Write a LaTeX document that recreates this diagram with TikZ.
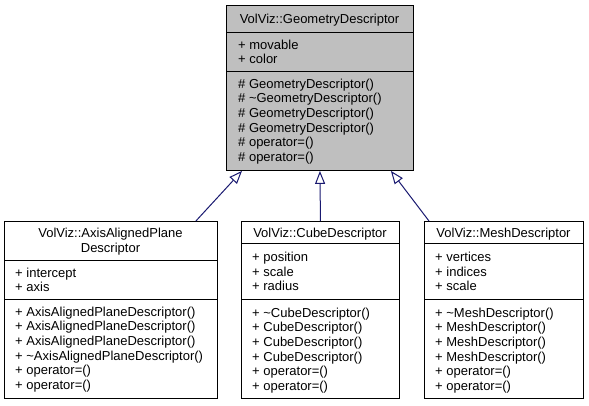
\documentclass[tikz,border=0pt]{standalone}
\usepackage{fontspec}
\setmainfont{Liberation Sans}
\usetikzlibrary{arrows.meta}
\definecolor{edgeblue}{HTML}{191970}
\definecolor{grey75}{HTML}{BFBFBF}
\tikzset{
  classbox/.style={draw=black, line width=0.9pt, anchor=north west, inner sep=0pt},
  member/.style={anchor=base west, inner sep=0pt, font=\fontsize{13}{14.7}\selectfont},
  classname/.style={member, anchor=base},
  inherit/.style={draw=edgeblue, line width=1pt, -{Triangle[open, fill=white, length=13pt, width=10pt]}},
}
\begin{document}
\begin{tikzpicture}[x=1pt,y=-1pt]
\useasboundingbox (0,0) rectangle (589,405);
\node[classbox, fill=grey75, minimum width=187pt, minimum height=165pt] (geom) at (226,5) {};
\node[classbox, minimum width=213pt, minimum height=177pt] (plane) at (4,221) {};
\node[classbox, minimum width=158pt, minimum height=177pt] (cube) at (241,221) {};
\node[classbox, minimum width=159pt, minimum height=177pt] (mesh) at (424,221) {};
\draw[line width=0.9pt] ([yshift=-27pt]geom.north west) -- ([yshift=-27pt]geom.north east);
\draw[line width=0.9pt] ([yshift=-66pt]geom.north west) -- ([yshift=-66pt]geom.north east);
\draw[line width=0.9pt] ([yshift=-39pt]plane.north west) -- ([yshift=-39pt]plane.north east);
\draw[line width=0.9pt] ([yshift=-78pt]plane.north west) -- ([yshift=-78pt]plane.north east);
\draw[line width=0.9pt] ([yshift=-22.5pt]cube.north west) -- ([yshift=-22.5pt]cube.north east);
\draw[line width=0.9pt] ([yshift=-78.5pt]cube.north west) -- ([yshift=-78.5pt]cube.north east);
\draw[line width=0.9pt] ([yshift=-22.5pt]mesh.north west) -- ([yshift=-22.5pt]mesh.north east);
\draw[line width=0.9pt] ([yshift=-78.5pt]mesh.north west) -- ([yshift=-78.5pt]mesh.north east);
\node[classname] (geom-name) at (319.5,23) {VolViz::GeometryDescriptor};
\foreach \t [count=\i] in {+ movable, + color}
  \node[member] (geom-attr\i) at (238,{49+14.7*(\i-1)}) {\t};
\foreach \t [count=\i] in {\# GeometryDescriptor(), \# \textasciitilde GeometryDescriptor(), \# GeometryDescriptor(), \# GeometryDescriptor(), \# operator=(), \# operator=()}
  \node[member] (geom-op\i) at (238,{88+14.7*(\i-1)}) {\t};
\node[classname] (plane-name1) at (110.5,237.5) {VolViz::AxisAlignedPlane};
\node[classname] (plane-name2) at (110.5,252.2) {Descriptor};
\foreach \t [count=\i] in {+ intercept, + axis}
  \node[member] (plane-attr\i) at (15,{277+14.7*(\i-1)}) {\t};
\foreach \t [count=\i] in {+ AxisAlignedPlaneDescriptor(), + AxisAlignedPlaneDescriptor(), + AxisAlignedPlaneDescriptor(), + \textasciitilde AxisAlignedPlaneDescriptor(), + operator=(), + operator=()}
  \node[member] (plane-op\i) at (15,{316+14.7*(\i-1)}) {\t};
\node[classname] (cube-name) at (320,237.5) {VolViz::CubeDescriptor};
\foreach \t [count=\i] in {+ position, + scale, + radius}
  \node[member] (cube-attr\i) at (252,{261.5+14.7*(\i-1)}) {\t};
\foreach \t [count=\i] in {+ \textasciitilde CubeDescriptor(), + CubeDescriptor(), + CubeDescriptor(), + CubeDescriptor(), + operator=(), + operator=()}
  \node[member] (cube-op\i) at (252,{317+14.7*(\i-1)}) {\t};
\node[classname] (mesh-name) at (503.5,237.5) {VolViz::MeshDescriptor};
\foreach \t [count=\i] in {+ vertices, + indices, + scale}
  \node[member] (mesh-attr\i) at (435,{261.5+14.7*(\i-1)}) {\t};
\foreach \t [count=\i] in {+ \textasciitilde MeshDescriptor(), + MeshDescriptor(), + MeshDescriptor(), + MeshDescriptor(), + operator=(), + operator=()}
  \node[member] (mesh-op\i) at (435,{317+14.7*(\i-1)}) {\t};
\draw[inherit] ([xshift=-22pt]plane.north east) -- ([xshift=16pt]geom.south west);
\draw[inherit] (cube.north) -- (geom.south);
\draw[inherit] ([xshift=5pt]mesh.north west) -- ([xshift=-23pt]geom.south east);
\end{tikzpicture}
\end{document}
